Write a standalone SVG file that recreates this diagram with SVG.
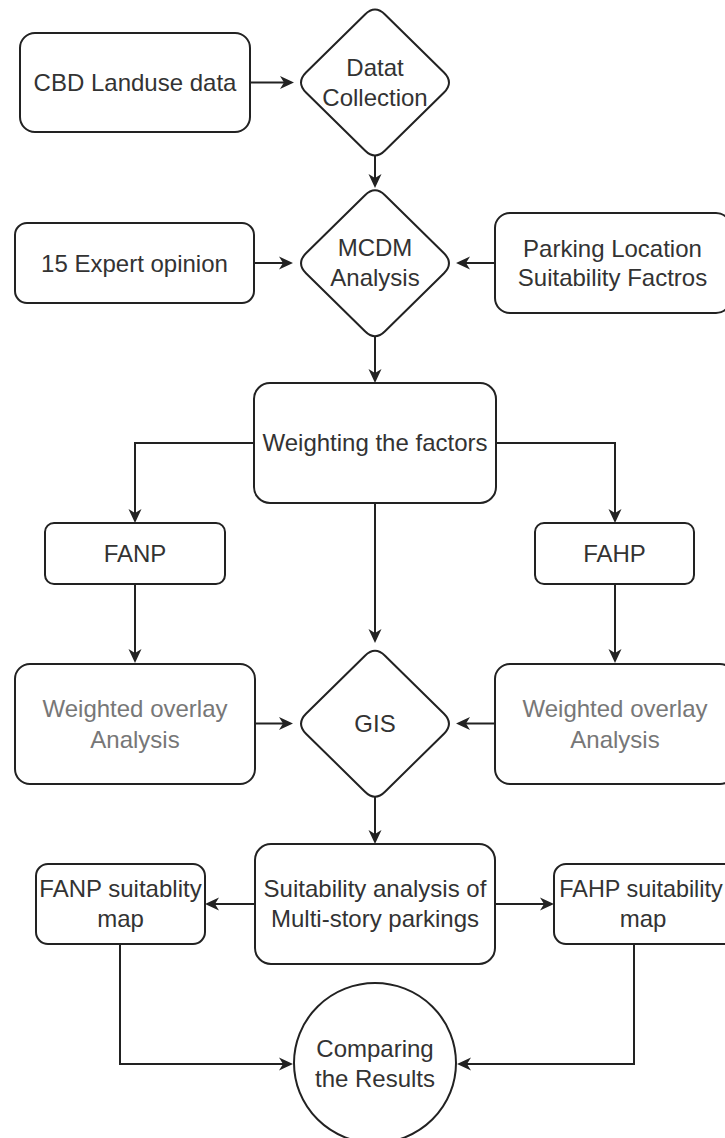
<svg xmlns="http://www.w3.org/2000/svg" xmlns:xlink="http://www.w3.org/1999/xlink" width="725" height="1138" viewBox="0 0 725 1138">
<style>
.box{fill:#fff;stroke:#222;stroke-width:2}
.t{font-family:"Liberation Sans",Arial,sans-serif;font-size:24px;fill:#333;text-anchor:middle}
.g{fill:#777}
.c{fill:none;stroke:#222;stroke-width:2;marker-end:url(#ah)}
</style>
<defs>
<marker id="ah" viewBox="-16 -8 18 16" refX="-5" refY="0" markerWidth="18" markerHeight="16" markerUnits="userSpaceOnUse" orient="auto">
<path d="M0,0 L-14,-6.5 L-10,0 L-14,6.5 Z" fill="#222"/>
</marker>
<path id="dia" d="M-10,-68 Q0,-78 10,-68 L69,-10 Q79,0 69,10 L10,68 Q0,78 -10,68 L-69,10 Q-79,0 -69,-10 Z"/>
</defs>
<rect width="725" height="1138" fill="#fff"/>
<g id="connectors">
<path class="c" d="M250,82.5 H289"/>
<path class="c" d="M375,156 V183"/>
<path class="c" d="M254,263 H288"/>
<path class="c" d="M495,263 H461"/>
<path class="c" d="M375,337 V378"/>
<path class="c" d="M254,443 H135 V518"/>
<path class="c" d="M496,443 H615 V518"/>
<path class="c" d="M375,503 V638"/>
<path class="c" d="M135,584 V658"/>
<path class="c" d="M615,584 V658"/>
<path class="c" d="M254,723.5 H288"/>
<path class="c" d="M495,723.5 H461"/>
<path class="c" d="M375,797 V839"/>
<path class="c" d="M255,904 H210"/>
<path class="c" d="M495,904 H549"/>
<path class="c" d="M120,944 V1064 H288"/>
<path class="c" d="M634,944 V1064 H462"/>
</g>
<g id="cbd">
<rect class="box" x="20" y="33" width="230" height="99" rx="15"/>
<text class="t" x="135" y="90.5">CBD Landuse data</text>
</g>
<g id="datat">
<use href="#dia" x="375" y="82.5" class="box"/>
<text class="t" x="375" y="75.5">Datat</text>
<text class="t" x="375" y="105.5">Collection</text>
</g>
<g id="expert">
<rect class="box" x="15" y="223" width="239" height="80" rx="12"/>
<text class="t" x="134.5" y="271.5">15 Expert opinion</text>
</g>
<g id="mcdm">
<use href="#dia" x="375" y="263.3" class="box"/>
<text class="t" x="375" y="256">MCDM</text>
<text class="t" x="375" y="286">Analysis</text>
</g>
<g id="parking">
<rect class="box" x="495" y="213" width="236" height="100" rx="15"/>
<text class="t" x="612.5" y="256.5">Parking Location</text>
<text class="t" x="612.5" y="286">Suitability Factros</text>
</g>
<g id="weighting">
<rect class="box" x="254" y="383" width="242" height="120" rx="16"/>
<text class="t" x="375" y="451">Weighting the factors</text>
</g>
<g id="fanp">
<rect class="box" x="45" y="523" width="180" height="61" rx="9"/>
<text class="t" x="135" y="561.5">FANP</text>
</g>
<g id="fahp">
<rect class="box" x="535" y="523" width="159" height="61" rx="9"/>
<text class="t" x="614.5" y="561.5">FAHP</text>
</g>
<g id="wol">
<rect class="box" x="15" y="664" width="240" height="120" rx="15"/>
<text class="t g" x="135" y="717">Weighted overlay</text>
<text class="t g" x="135" y="747.5">Analysis</text>
</g>
<g id="gis">
<use href="#dia" x="375" y="723.7" class="box"/>
<text class="t" x="375" y="731.5">GIS</text>
</g>
<g id="wor">
<rect class="box" x="495" y="664" width="240" height="120" rx="15"/>
<text class="t g" x="615" y="717">Weighted overlay</text>
<text class="t g" x="615" y="747.5">Analysis</text>
</g>
<g id="suit">
<rect class="box" x="255" y="844" width="240" height="120" rx="16"/>
<text class="t" x="375" y="897">Suitability analysis of</text>
<text class="t" x="375" y="927">Multi-story parkings</text>
</g>
<g id="fanpmap">
<rect class="box" x="36" y="864" width="169" height="80" rx="12"/>
<text class="t" x="120.5" y="897">FANP suitablity</text>
<text class="t" x="120.5" y="927">map</text>
</g>
<g id="fahpmap">
<rect class="box" x="554" y="864" width="182" height="80" rx="12"/>
<text class="t" x="641" y="897" style="font-size:23.4px">FAHP suitability</text>
<text class="t" x="643" y="927">map</text>
</g>
<g id="compare">
<ellipse class="box" cx="375" cy="1063" rx="81" ry="80"/>
<text class="t" x="375" y="1057">Comparing</text>
<text class="t" x="375" y="1087">the Results</text>
</g>
</svg>
